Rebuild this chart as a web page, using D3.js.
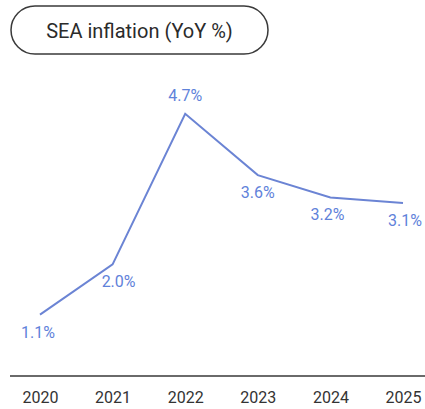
<!DOCTYPE html>
<html>
<head>
<meta charset="utf-8">
<script src="https://cdn.jsdelivr.net/npm/d3@7"></script>
<style>
  html, body { margin: 0; padding: 0; background: #ffffff; }
  svg { display: block; }
</style>
</head>
<body>
<svg id="chart" width="425" height="409"></svg>
<script>
// Southeast Asia year-on-year inflation, 2020–2025
const years = ["2020", "2021", "2022", "2023", "2024", "2025"];
const inflation = [1.1, 2.0, 4.7, 3.6, 3.2, 3.1];
const valueLabels = ["1.1%", "2.0%", "4.7%", "3.6%", "3.2%", "3.1%"];
const titleText = "SEA inflation (YoY %)";

const W = 425, H = 409;
const svg = d3.select("#chart");
const font = "Roboto, 'Open Sans', sans-serif";

const x = d3.scalePoint().domain(years).range([40, 403]);
const y = d3.scaleLinear().domain([0, 5]).range([376, 97]);

// Title pill
const title = svg.append("g");
title.append("rect")
  .attr("x", 11).attr("y", 6)
  .attr("width", 257).attr("height", 48)
  .attr("rx", 24).attr("ry", 24)
  .attr("fill", "#fff")
  .attr("stroke", "#3a3a3a")
  .attr("stroke-width", 1.5);
title.append("text")
  .attr("x", 139.5).attr("y", 31)
  .attr("text-anchor", "middle")
  .attr("dominant-baseline", "central")
  .attr("font-family", font)
  .attr("font-size", 20)
  .attr("fill", "#2b2b2b")
  .text(titleText);

// Baseline axis with year labels
const axis = d3.axisBottom(x).tickSize(0).tickPadding(16);
const axisG = svg.append("g")
  .attr("transform", `translate(0,${y(0)})`)
  .call(axis);
axisG.select(".domain").remove();
axisG.append("line")
  .attr("x1", 10).attr("x2", W)
  .attr("y1", 0).attr("y2", 0)
  .attr("stroke", "#6a6a6a")
  .attr("stroke-width", 2);
axisG.selectAll(".tick text")
  .attr("font-family", font)
  .attr("font-size", 16)
  .attr("fill", "#333");

const data = years.map((yr, i) => ({ year: yr, value: inflation[i], label: valueLabels[i] }));

// Inflation line
const line = d3.line().x(d => x(d.year)).y(d => y(d.value));
svg.append("path")
  .datum(data)
  .attr("d", line)
  .attr("fill", "none")
  .attr("stroke", "#6b84d4")
  .attr("stroke-width", 2);

// Value labels: above the peak, below the other points
const dx = [-2, 6, 0, 0, -3, 2];
svg.append("g").selectAll("text")
  .data(data)
  .join("text")
  .attr("x", (d, i) => x(d.year) + dx[i])
  .attr("y", (d, i) => i === 2 ? y(d.value) - 13 : y(d.value) + 23)
  .attr("text-anchor", "middle")
  .attr("font-family", font)
  .attr("font-size", 16)
  .attr("fill", "#5f82da")
  .text(d => d.label);
</script>
</body>
</html>
